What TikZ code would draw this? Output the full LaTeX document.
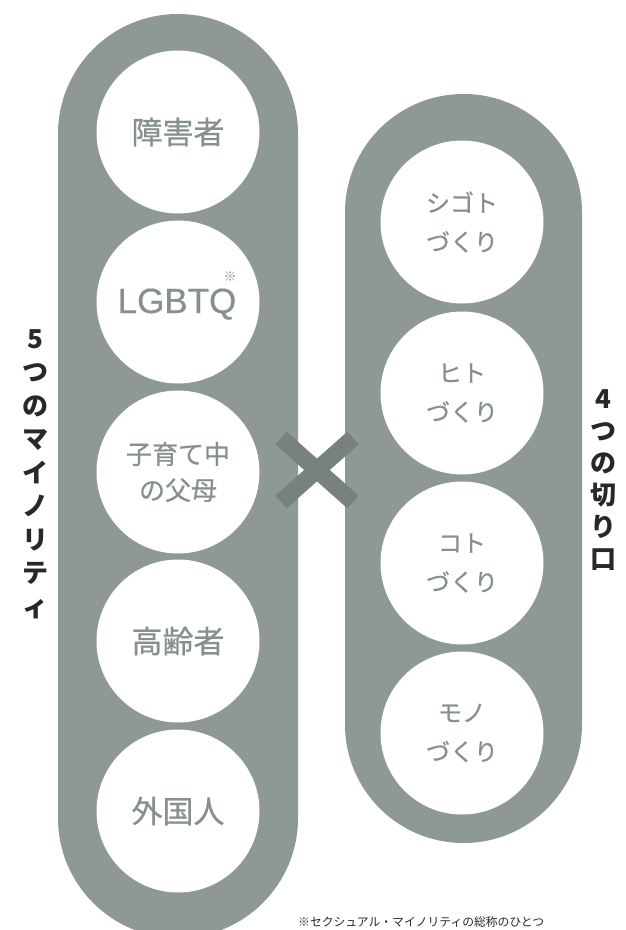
\documentclass[tikz,border=0pt]{standalone}
\usepackage{fontspec}
\newfontfamily\cjk{Noto Sans CJK JP}
\newfontfamily\cjkm[FakeBold=0.6]{Noto Sans CJK JP}
\newfontfamily\latn[FakeBold=0.4]{Liberation Sans}
\definecolor{pillc}{RGB}{143,153,148}
\definecolor{crossc}{RGB}{120,130,125}
\definecolor{txtc}{RGB}{135,145,140}
\definecolor{labc}{RGB}{40,40,40}
\begin{document}
\begin{tikzpicture}[x=1pt,y=-1pt,
  circ/.style={circle,fill=white,minimum size=163pt,inner sep=0pt,text=txtc,align=center,font=\cjkm\fontsize{31}{36}\selectfont},
  circtwo/.style={circ,font=\cjkm\fontsize{26}{36}\selectfont},
  circthree/.style={circ,font=\cjkm\fontsize{24}{39}\selectfont},
  vlab/.style={text=labc,align=center,font=\cjk\bfseries\fontsize{26}{33.5}\selectfont,inner sep=0pt},
  note/.style={text=labc,font=\cjk\fontsize{11.8}{13}\selectfont,inner sep=0pt}]
\useasboundingbox (0,0) rectangle (625,930);
\fill[white] (0,0) rectangle (625,930);
\begin{scope}
\clip (0,0) rectangle (625,930);
% pills
\fill[pillc,rounded corners=119.9pt] (58,14) rectangle (298,938);
\fill[pillc,rounded corners=118.4pt] (345,94) rectangle (582,843);
\end{scope}
% left circles
\node[circ] (l1) at (178,132) {障害者};
\node[circ] (l2) at (178,302) {};
\node[text=txtc,font=\latn\fontsize{35}{40}\selectfont,inner sep=0pt,anchor=base] (lg) at (177,313) {LGBTQ};
\node[note,text=txtc,font=\cjk\fontsize{13}{14}\selectfont] (ast) at (230,277) {※};
\node[circtwo] (l3) at (178,472) {子育て中\\の父母};
\node[circ] (l4) at (178,641) {高齢者};
\node[circ] (l5) at (178,811) {外国人};
% right circles
\node[circthree] (r1) at (462,222) {シゴト\\づくり};
\node[circthree] (r2) at (462,393) {ヒト\\づくり};
\node[circthree] (r3) at (462,563) {コト\\づくり};
\node[circthree] (r4) at (462,733) {モノ\\づくり};
% cross
\draw[crossc,line width=17pt] (281,438) -- (353,502);
\draw[crossc,line width=17pt] (353,438) -- (281,502);
% vertical labels
\node[vlab] (lv) at (35,474) {5\\つ\\の\\マ\\イ\\ノ\\リ\\テ\\ィ};
\node[vlab,font=\cjk\bfseries\fontsize{26}{32}\selectfont] (rv) at (603,480) {4\\つ\\の\\切\\り\\口};
% footnote
\node[note,anchor=west] (fn) at (298,922) {※セクシュアル・マイノリティの総称のひとつ};
\end{tikzpicture}
\end{document}
